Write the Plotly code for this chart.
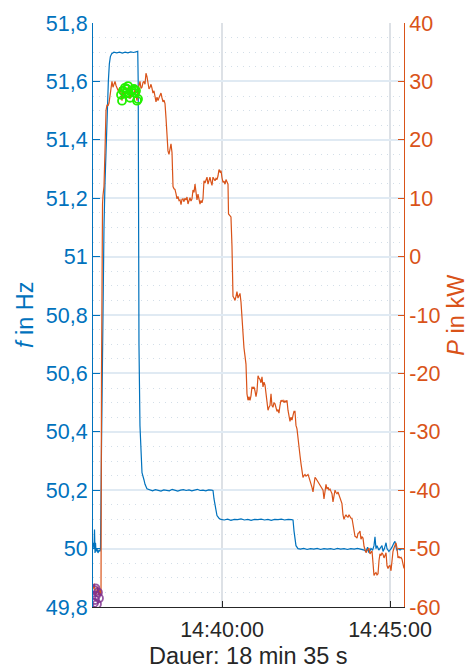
import pandas as pd
import plotly.graph_objects as go

BLUE = "#0072BD"
ORANGE = "#D95319"
GREEN = "#22F000"
PURPLE = "#7E2F8E"
DARK = "#262626"

T0 = pd.Timestamp("2020-01-01 14:36:00")

# frequency, seconds after 14:36:00
freq_t = [9.6, 11.4, 12.3, 13.2, 14.1, 15.0, 16.7, 18.5, 20.3, 22.1, 23.0, 24.8, 26.6, 28.4, 29.2,
          31.0, 33.0, 35.1, 37.0, 38.8, 40.6, 43.0, 47.0, 52.0, 57.0, 62.0, 67.0, 72.0, 77.0,
          82.0, 87.0, 89.5, 90.3, 90.9, 91.7, 93.5, 95.3, 97.1, 100.7, 102.5, 106.0, 111.4,
          116, 121, 126, 131, 136, 141, 146, 151, 156, 161, 166, 171, 176, 181, 186, 191,
          196, 201, 206, 211, 216, 221, 223.9, 225.7, 227.5, 229.3, 231.0, 234.6, 238,
          244, 250, 256, 262, 268, 274, 280, 286, 292, 298, 304, 310, 316, 322, 328, 334,
          340, 346, 352, 358, 364, 366.8, 368.6, 370.3, 372.1, 375.7, 380, 386, 392, 398,
          404, 410, 416, 422, 428, 434, 440, 446, 452, 458, 464, 470, 476, 482, 488, 494,
          497.1, 500.0, 502.5, 506.0, 509.0, 511.4, 513.2, 515.0, 516.8, 520.0, 525.7,
          527.5, 530.0, 532.9, 534.6, 538.0, 541.8, 543.6, 547.1, 548.9, 550.7, 552.5,
          555.0, 558.0, 561.4, 565.0]
freq_hz = [50.02, 50.0, 50.065, 49.985, 50.02, 49.99, 50.0, 49.985, 49.995, 49.99, 50.0, 50.35,
           50.7, 50.98, 51.1, 51.25, 51.4, 51.5, 51.6, 51.66, 51.685, 51.695, 51.7, 51.698,
           51.7, 51.697, 51.7, 51.698, 51.701, 51.699, 51.702, 51.703, 51.6, 51.2, 50.7,
           50.42, 50.3, 50.26, 50.235, 50.22, 50.205, 50.2, 50.198, 50.202, 50.199, 50.197,
           50.201, 50.2, 50.198, 50.203, 50.2, 50.197, 50.2, 50.202, 50.199, 50.201, 50.198,
           50.2, 50.203, 50.199, 50.2, 50.198, 50.201, 50.2, 50.199, 50.17, 50.145, 50.125,
           50.113, 50.104, 50.1, 50.098, 50.101, 50.097, 50.1, 50.099, 50.102, 50.098, 50.1,
           50.097, 50.1, 50.099, 50.101, 50.098, 50.1, 50.097, 50.1, 50.099, 50.101, 50.098,
           50.1, 50.099, 50.098, 50.06, 50.03, 50.01, 50.0, 49.998, 50.001, 49.997, 50.0,
           49.998, 50.001, 49.997, 50.0, 49.998, 50.0, 49.997, 50.001, 49.998, 50.0, 49.997,
           50.0, 49.998, 50.001, 49.997, 49.995, 49.99, 50.005, 49.985, 50.0, 49.995, 50.01,
           50.04, 50.0, 50.01, 49.995, 50.01, 49.99, 50.0, 50.02, 50.0, 49.99, 50.0, 50.005,
           50.02, 50.025, 50.005, 49.995, 50.0, 49.995, 50.0, 49.998]

# active power, seconds after 14:36:00
power_t = [9.6, 12.0, 14.0, 16.0, 18.0, 20.0, 22.0, 23.9, 24.8, 25.7, 26.6, 27.5, 29.2, 31.0,
           32.8, 34.6, 36.4, 38.2, 40.0, 41.7, 43.5, 45.3, 47.1, 48.9, 50.7, 52.5, 55.0, 57.8,
           59.6, 61.4, 63.0, 65.0, 66.7, 70.3, 72.0, 73.9, 75.7, 77.5, 79.3, 81.0, 84.6, 86.4,
           88.2, 90.0, 91.7, 93.5, 95.3, 97.1, 98.9, 100.7, 102.5, 104.2, 106.0, 107.8, 109.6,
           111.4, 113.2, 115.0, 116.7, 118.5, 120.3, 122.1, 123.9, 125.7, 127.5, 129.3, 131.0,
           132.8, 134.6, 136.4, 138.2, 140.0, 141.7, 143.5, 145.3, 147.1, 148.9, 150.7, 151.6,
           152.5, 154.3, 156.0, 157.8, 159.6, 161.4, 163.2, 165.0, 166.8, 168.5, 170.3, 172.1,
           173.9, 175.7, 177.5, 179.2, 181.0, 182.8, 184.6, 186.4, 188.2, 190.0, 191.8, 193.5,
           195.3, 197.1, 198.9, 200.7, 202.5, 204.2, 206.0, 207.8, 209.6, 211.4, 213.2, 215.0,
           216.7, 218.5, 220.3, 222.1, 223.9, 225.7, 227.5, 229.3, 231.0, 232.8, 234.6, 236.4,
           238.2, 240.0, 241.8, 243.6, 245.4, 247.1, 248.9, 250.7, 251.6, 254.3, 256.0, 257.8,
           258.7, 259.6, 261.4, 263.2, 265.0, 266.7, 268.5, 270.3, 272.1, 273.9, 275.7, 277.5,
           279.2, 281.0, 282.8, 284.6, 286.4, 288.2, 290.0, 291.8, 293.5, 295.3, 297.1, 298.9,
           300.7, 302.5, 304.3, 306.0, 307.8, 309.6, 311.4, 313.2, 315.0, 316.8, 318.5, 320.3,
           322.1, 323.9, 325.7, 327.5, 329.2, 331.0, 332.8, 334.6, 336.4, 338.2, 340.0, 341.7,
           343.5, 345.3, 347.1, 348.9, 350.7, 352.5, 354.2, 356.0, 357.8, 359.6, 361.4, 363.2,
           365.0, 366.8, 368.6, 370.3, 372.1, 373.9, 375.7, 377.5, 379.3, 381.1, 382.9, 384.6,
           386.4, 388.2, 390.0, 391.8, 393.6, 395.3, 397.1, 398.9, 400.7, 402.5, 404.3, 406.1,
           407.8, 409.6, 411.4, 413.2, 415.0, 416.8, 418.6, 420.4, 422.1, 423.9, 425.7, 427.5,
           429.3, 431.1, 432.9, 434.6, 436.4, 438.2, 440.0, 441.8, 443.6, 445.3, 447.1, 448.9,
           450.7, 452.5, 454.2, 456.0, 457.8, 459.6, 461.4, 463.2, 465.0, 466.8, 468.5, 470.3,
           472.1, 473.9, 475.7, 477.5, 479.3, 481.1, 482.9, 484.6, 486.4, 488.2, 490.0, 491.8,
           493.6, 495.3, 497.1, 498.9, 500.7, 502.5, 504.3, 506.1, 507.9, 509.6, 511.4, 513.2,
           515.0, 516.8, 518.6, 520.4, 522.1, 523.9, 525.7, 527.5, 529.3, 531.1, 532.9, 534.6,
           536.4, 538.2, 540.0, 541.8, 543.6, 545.3, 547.1, 548.9, 550.7, 552.5, 554.3, 556.1,
           557.9, 559.6, 561.4, 563.2, 565.0]
power_kw = [-57, -56, -58, -57.5, -56.5, -58, -57, -58, -20, 5, 9, 10.5, 12, 18,
            25, 26, 25.8, 26.3, 27.5, 29, 30, 29, 29.5, 30, 29.3, 28.7, 28.3, 29,
            27.8, 26.7, 28.5, 27.6, 28.2, 28, 29, 27.5, 27, 28.2, 27.4, 27.5, 28.6, 27.5,
            26.7, 28.5, 29.5, 30, 28.8, 29, 29.8, 30, 29.5, 31.4, 30.8, 30, 28.7,
            29, 29.5, 28.8, 28, 28.4, 27.5, 26.5, 27.3, 26.7, 27.2, 27.8, 28,
            27.2, 26.5, 26.8, 26.2, 23.7, 20.3, 18.1, 17.5, 18.8, 19.3, 17.8, 15.3,
            12, 11.6, 11.5, 10.8, 9.9, 10.3, 9.6, 9.7, 8.9, 9.8, 9.9, 9.4,
            10, 9.7, 10.2, 9, 9.5, 10.1, 9.5, 9.9, 11.4, 11, 12.4, 11.2,
            9.7, 10.7, 9.5, 9, 9.6, 9.2, 9.9, 13, 12.6, 13.2, 13.6, 12.4,
            13.1, 13.6, 12.8, 12.2, 13.6, 13.2, 13, 13.4, 13.2, 13.8, 14.9, 14.5,
            14.7, 13.5, 12.7, 12.9, 12.4, 13.2, 12.8, 12.4, 7.3, 7, 6.8, 1.8,
            -5, -6.8, -7.1, -7.5, -6.8, -6, -7.1, -6.5, -6.3, -7.8, -11.2, -13.5,
            -15.6, -17, -18.4, -23.5, -24.6, -24, -24.6, -23.8, -22.3, -22.6, -22.3, -23,
            -24, -23, -20.4, -20.8, -21, -21.6, -20.6, -22.3, -21.5, -22, -23.5, -25.2,
            -26.3, -25.8, -25.5, -23.5, -25.5, -25.8, -25, -25.2, -26, -26.5, -26.2, -26.8,
            -25.5, -24.6, -24.8, -24.6, -25, -24.7, -24.9, -24.6, -26.3, -27.5, -28.2, -27.5,
            -28, -27.2, -26.5, -26.5, -28.9, -29.5, -31.4, -32.5, -34.1, -35.5, -37, -37.8,
            -37.5, -37.3, -37.6, -37.4, -37.3, -37.8, -38.3, -38.8, -39.5, -40.3, -39, -37.8,
            -38, -38.3, -38.6, -39, -39.3, -39.5, -39.8, -40, -41.5, -40, -39, -39.8,
            -39.5, -40, -39.8, -40.2, -40.6, -42, -41, -40, -40.4, -40.6, -40.3, -40.8,
            -41.1, -41.5, -42.3, -44.2, -45, -44.5, -44.2, -44.5, -44.6, -44.2, -44.5, -44.8,
            -44.8, -45.9, -46.8, -47.9, -48, -48.2, -47.4, -47.3, -47, -48.4, -48, -48.2,
            -49.6, -50.2, -50.7, -50.4, -50.1, -49.9, -50.9, -50.6, -50.4, -52.4, -54.6, -54.3,
            -54.1, -54.5, -54.3, -52, -50.9, -51.2, -50.7, -51, -51.6, -51.2, -50.7, -52.9,
            -53.4, -53, -52.9, -53.8, -51.6, -50.5, -49.9, -49.5, -49, -49.9, -51.6, -51.4,
            -51.6, -51.5, -51.8, -52.6, -53.4]

green_t = [59.6, 61.4, 63.2, 66.7, 68.5, 70.3, 72.1, 73.9, 75.7, 79.3, 82.8, 84.6, 86.4, 88.2, 90.0]
green_kw = [27.7, 26.7, 28.4, 28.9, 28.0, 28.7, 29.2, 27.9, 27.2, 28.4, 28.7, 28.0, 28.4, 26.7, 27.0]

purple_t = [11.4, 13.2, 15.0, 16.7, 18.5, 20.3, 11.4, 14.0]
purple_kw = [-57.1, -58.8, -58.0, -59.5, -57.5, -58.5, -59.3, -56.8]

f_ticks = [49.8, 50.0, 50.2, 50.4, 50.6, 50.8, 51.0, 51.2, 51.4, 51.6, 51.8]
f_labels = ["49,8", "50", "50,2", "50,4", "50,6", "50,8", "51", "51,2", "51,4", "51,6", "51,8"]
p_ticks = [-60, -50, -40, -30, -20, -10, 0, 10, 20, 30, 40]
p_labels = ["-60", "-50", "-40", "-30", "-20", "-10", "0", "10", "20", "30", "40"]
x_tick_secs = [240, 540]
x_tick_labels = ["14:40:00", "14:45:00"]
x_range_secs = [9.6, 565.0]


def ts(secs):
    return [T0 + pd.Timedelta(seconds=s) for s in secs]


FONT = "Liberation Sans, Arial, sans-serif"

fig = go.Figure()
fig.add_trace(go.Scatter(x=ts(freq_t), y=freq_hz, mode="lines",
                         line=dict(color=BLUE, width=1.2), yaxis="y"))
fig.add_trace(go.Scatter(x=ts(power_t), y=power_kw, mode="lines",
                         line=dict(color=ORANGE, width=1.2), yaxis="y2"))
fig.add_trace(go.Scatter(x=ts(green_t), y=green_kw, mode="markers", yaxis="y2",
                         marker=dict(symbol="circle-open", size=8, color=GREEN,
                                     line=dict(width=1.8, color=GREEN))))
fig.add_trace(go.Scatter(x=ts(purple_t), y=purple_kw, mode="markers", yaxis="y2",
                         marker=dict(symbol="circle-open", size=8, color=PURPLE, opacity=0.8,
                                     line=dict(width=1.8, color=PURPLE))))

fig.update_layout(
    width=468, height=670,
    margin=dict(l=93, r=64, t=13, b=63),
    paper_bgcolor="white", plot_bgcolor="white",
    showlegend=False,
    font=dict(family=FONT, size=21.5, color=DARK),
    xaxis=dict(type="date", range=ts(x_range_secs), tickvals=ts(x_tick_secs),
               ticktext=x_tick_labels, ticks="inside", ticklen=6, tickcolor=DARK,
               tickwidth=1, showline=True, linecolor=DARK, linewidth=1,
               showgrid=True, gridcolor="#dde1e6", gridwidth=1.5, zeroline=False,
               ticklabelstandoff=3,
               tickfont=dict(size=21.5, color=DARK)),
    yaxis=dict(range=[49.8, 51.8], tickmode="array", tickvals=f_ticks, ticktext=f_labels,
               ticks="inside", ticklen=7, tickcolor=BLUE, tickwidth=1,
               showline=True, linecolor=BLUE, linewidth=1,
               showgrid=True, gridcolor="#e0eaf3", gridwidth=1.5, zeroline=False,
               minor=dict(tickmode="linear", tick0=49.8, dtick=0.05, showgrid=True,
                          gridcolor="#d3dee8", griddash="1px,5px", gridwidth=1, ticks=""),
               tickfont=dict(size=21.5, color=BLUE)),
    yaxis2=dict(overlaying="y", side="right", range=[-60, 40], tickmode="array",
                tickvals=p_ticks, ticktext=p_labels, ticks="inside", ticklen=6,
                tickcolor=ORANGE, tickwidth=1, showline=True, linecolor=ORANGE, linewidth=1,
                showgrid=False, zeroline=False,
                tickfont=dict(size=21.5, color=ORANGE)),
    annotations=[
        dict(text="<i>f</i> in Hz", xref="paper", yref="paper", x=-0.2186, y=0.5,
             xanchor="center", yanchor="middle", textangle=-90, showarrow=False,
             font=dict(size=23.5, color=BLUE, family=FONT)),
        dict(text="<i>P</i> in kW", xref="paper", yref="paper", x=1.166, y=0.5,
             xanchor="center", yanchor="middle", textangle=-90, showarrow=False,
             font=dict(size=23.5, color=ORANGE, family=FONT)),
        dict(text="Dauer: 18 min 35 s", xref="paper", yref="paper", x=0.5, y=-0.0842,
             xanchor="center", yanchor="middle", showarrow=False,
             font=dict(size=23.5, color=DARK, family=FONT)),
    ],
)

fig.write_html("out.html")
